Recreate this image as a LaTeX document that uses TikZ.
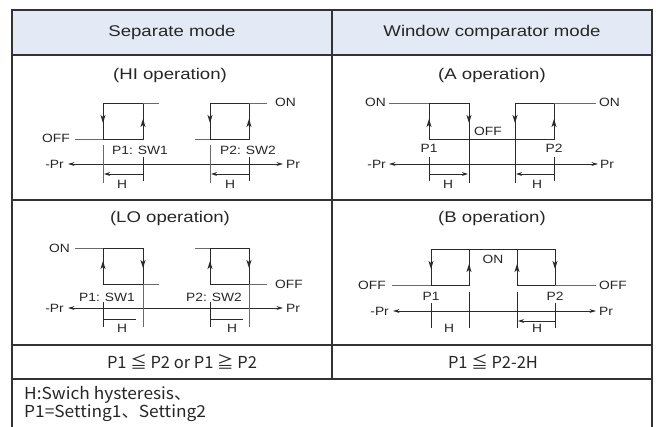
\documentclass[tikz,border=0pt]{standalone}
\usepackage{fontspec}
\setmainfont{Liberation Sans}
\newfontfamily\lab{Liberation Sans}[FakeStretch=1.15]
\newfontfamily\hlab{Liberation Sans}[FakeStretch=1.2]
\newfontfamily\cjk{Noto Sans CJK JP}
\newfontfamily\cjknote{Noto Sans CJK JP}[FakeStretch=1.05]
\usetikzlibrary{arrows.meta}
\definecolor{headblue}{HTML}{E3EAF6}
\definecolor{gridc}{HTML}{333333}
\definecolor{loopc}{HTML}{2A2A2A}
\definecolor{extc}{HTML}{6A6A6A}
\tikzset{
  grid/.style={draw=gridc,line width=1.4pt},
  loopline/.style={draw=loopc,line width=0.9pt},
  extline/.style={draw=extc,line width=0.7pt},
  tickline/.style={draw=loopc,line width=0.8pt},
  midarrow/.style={draw=loopc,line width=0.9pt,-{Stealth[length=8pt,width=5pt,inset=2pt]}},
  axisline/.style={draw=loopc,line width=0.8pt,{Stealth[length=6.5pt,width=3.8pt]}-{Stealth[length=6.5pt,width=3.8pt]}},
  harrow/.style={draw=loopc,line width=0.8pt,-{Stealth[length=6pt,width=3.8pt]}},
  hline/.style={draw=loopc,line width=0.8pt},
  lbl/.style={font=\lab\fontsize{12}{13}\selectfont,inner sep=0pt,text=black!85},
  ttl/.style={font=\hlab\fontsize{15.5}{18}\selectfont,inner sep=0pt,text=black!85},
  hdr/.style={font=\hlab\fontsize{15.5}{17}\selectfont,inner sep=0pt,text=black!85},
  cond/.style={font=\cjk\fontsize{16.5}{18}\selectfont,inner sep=0pt,text=black!85},
  note/.style={font=\cjknote\fontsize{16.5}{18}\selectfont,inner sep=0pt,text=black!85,align=left},
}
\begin{document}
\begin{tikzpicture}[x=1pt,y=-1pt]
\useasboundingbox (0,0) rectangle (656,426);
% ---------- table ----------
\fill[headblue] (12,10) rectangle (652,55);
\draw[grid] (12,430) -- (12,10) -- (652,10) -- (652,430);
\draw[grid] (332,10) -- (332,379);
\foreach \yy in {55,200,345,379} \draw[grid] (12,\yy) -- (652,\yy);
% ---------- headers ----------
\node[hdr] (h1) at (172,32) {Separate mode};
\node[hdr] (h2) at (492,32) {Window comparator mode};
\node[ttl] (t1) at (170,75) {(HI operation)};
\node[ttl] (t2) at (492,75) {(A operation)};
\node[ttl] (t3) at (170,218) {(LO operation)};
\node[ttl] (t4) at (492,218) {(B operation)};
% ---------- HI operation ----------
\draw[loopline] (103,103) rectangle (143,139);
\draw[extline] (143,103) -- (159,103);
\draw[extline] (75,139) -- (103,139);
\draw[midarrow] (103,110) -- (103,123);
\draw[midarrow] (143,132) -- (143,119);
\draw[loopline] (210,103) rectangle (249,139);
\draw[extline] (249,103) -- (267,103);
\draw[extline] (195,139) -- (210,139);
\draw[midarrow] (210,110) -- (210,123);
\draw[midarrow] (249,132) -- (249,119);
\node[lbl,anchor=east] (hioff) at (70,138) {OFF};
\node[lbl,anchor=west] (hion) at (275,102) {ON};
\node[lbl] (hip1) at (140,150) {P1: SW1};
\node[lbl] (hip2) at (248,150) {P2: SW2};
\draw[axisline] (68,164) -- (283,164);
\node[lbl,anchor=east] (himpr) at (64,164) {-Pr};
\node[lbl,anchor=west] (hipr) at (286,164) {Pr};
\draw[extline] (103,145) -- (103,183);
\draw[tickline] (143,157) -- (143,181);
\draw[extline] (210,145) -- (210,183);
\draw[tickline] (249,157) -- (249,181);
\draw[harrow] (143,174) -- (104,174);
\draw[harrow] (249,174) -- (211,174);
\node[lbl] (hih1) at (122,184) {H};
\node[lbl] (hih2) at (230,184) {H};
% ---------- LO operation ----------
\draw[loopline] (103,248) rectangle (143,284);
\draw[extline] (75,248) -- (103,248);
\draw[extline] (143,284) -- (159,284);
\draw[midarrow] (103,276) -- (103,261);
\draw[midarrow] (143,254) -- (143,268);
\draw[loopline] (210,248) rectangle (249,284);
\draw[extline] (195,248) -- (210,248);
\draw[extline] (249,284) -- (267,284);
\draw[midarrow] (210,276) -- (210,261);
\draw[midarrow] (249,254) -- (249,268);
\node[lbl,anchor=east] (loon) at (70,248) {ON};
\node[lbl,anchor=west] (looff) at (275,284) {OFF};
\node[lbl] (lop1) at (107,297) {P1: SW1};
\node[lbl] (lop2) at (214,297) {P2: SW2};
\draw[axisline] (68,308) -- (283,308);
\node[lbl,anchor=east] (lompr) at (64,308) {-Pr};
\node[lbl,anchor=west] (lopr) at (286,308) {Pr};
\draw[tickline] (103,302) -- (103,327);
\draw[extline] (143,284) -- (143,327);
\draw[tickline] (210,302) -- (210,327);
\draw[extline] (249,284) -- (249,327);
\draw[hline] (103,319) -- (136,319);
\draw[hline] (210,319) -- (243,319);
\node[lbl] (loh1) at (122,328) {H};
\node[lbl] (loh2) at (232,328) {H};
% ---------- A operation ----------
\draw[extline] (389,103) -- (429,103);
\draw[loopline] (429,103) -- (469,103) -- (469,139) -- (429,139) -- cycle;
\draw[loopline] (469,139) -- (515,139);
\draw[loopline] (515,103) rectangle (554,139);
\draw[extline] (554,103) -- (596,103);
\draw[midarrow] (429,132) -- (429,119);
\draw[midarrow] (469,110) -- (469,123);
\draw[midarrow] (515,110) -- (515,123);
\draw[midarrow] (554,132) -- (554,119);
\node[lbl,anchor=east] (aon1) at (386,102) {ON};
\node[lbl,anchor=west] (aon2) at (599,102) {ON};
\node[lbl] (aoff) at (488,131) {OFF};
\node[lbl] (ap1) at (429,148) {P1};
\node[lbl] (ap2) at (554,148) {P2};
\draw[axisline] (389,164) -- (598,164);
\node[lbl,anchor=east] (ampr) at (386,164) {-Pr};
\node[lbl,anchor=west] (apr) at (600,164) {Pr};
\draw[tickline] (429,157) -- (429,181);
\draw[tickline] (469,139) -- (469,183);
\draw[tickline] (515,139) -- (515,183);
\draw[tickline] (554,157) -- (554,181);
\draw[harrow] (429,174) -- (468,174);
\draw[harrow] (554,174) -- (516,174);
\node[lbl] (ah1) at (448,184) {H};
\node[lbl] (ah2) at (537,184) {H};
% ---------- B operation ----------
\draw[extline] (392,285) -- (431,285);
\draw[loopline] (431,285) -- (431,249) -- (555,249) -- (555,285) -- (517,285) -- (517,249);
\draw[loopline] (469,249) -- (469,285) -- (431,285);
\draw[extline] (555,285) -- (596,285);
\draw[midarrow] (431,255) -- (431,269);
\draw[midarrow] (469,279) -- (469,264);
\draw[midarrow] (517,279) -- (517,264);
\draw[midarrow] (555,255) -- (555,269);
\node[lbl,anchor=east] (boff1) at (386,285) {OFF};
\node[lbl,anchor=west] (boff2) at (599,285) {OFF};
\node[lbl] (bon) at (493,259) {ON};
\node[lbl] (bp1) at (431,296) {P1};
\node[lbl] (bp2) at (555,296) {P2};
\draw[axisline] (393,311) -- (596,311);
\node[lbl,anchor=east] (bmpr) at (389,311) {-Pr};
\node[lbl,anchor=west] (bpr) at (599,311) {Pr};
\draw[tickline] (431,303) -- (431,328);
\draw[tickline] (469,292) -- (469,328);
\draw[tickline] (517,292) -- (517,328);
\draw[tickline] (555,303) -- (555,328);
\draw[harrow] (555,321) -- (518,321);
\node[lbl] (bh1) at (449,328) {H};
\node[lbl] (bh2) at (537,328) {H};
% ---------- bottom rows ----------
\node[cond] (c1) at (182,362) {P1 ≦ P2 or P1 ≧ P2};
\node[cond] (c2) at (493,362) {P1 ≦ P2-2H};
\node[note,anchor=west] (n1) at (24,395) {H:Swich hysteresis、};
\node[note,anchor=west] (n2) at (24,413) {P1=Setting1、Setting2};
\end{tikzpicture}
\end{document}
